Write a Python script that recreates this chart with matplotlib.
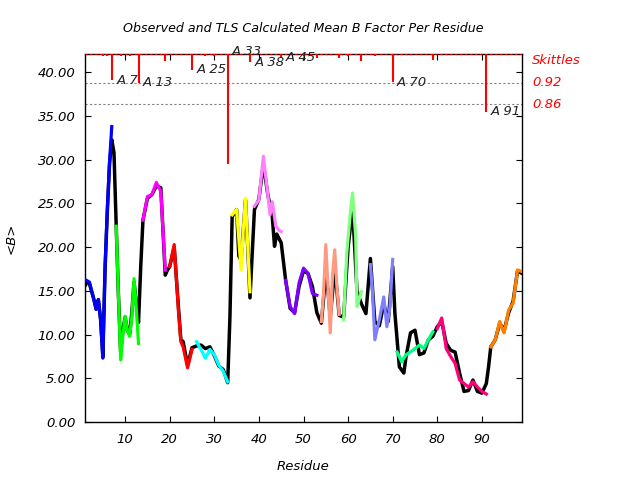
"""Observed vs TLS calculated mean B factor per residue, with skittles markers."""

import matplotlib

matplotlib.use("Agg")
import matplotlib.pyplot as plt  # noqa: E402
import matplotlib.transforms as mtransforms  # noqa: E402

# observed mean B per residue (black trace)
obs_res = [1, 1.5, 2, 3, 3.5, 4, 4.5, 5, 5.5, 6, 6.5, 7, 7.5, 8, 8.5, 9, 9.5,
           10, 10.5, 11, 11.5, 12, 12.5, 13, 13.5, 14, 15, 16, 17, 18, 19,
           19.5, 20, 21, 22, 22.5, 23, 24, 25, 26, 27, 28, 29, 30, 31, 32, 33,
           33.5, 34, 35, 35.5, 36, 36.5, 37, 37.5, 38, 39, 40, 41, 42, 43,
           43.5, 44, 45, 46, 47, 48, 49, 50, 51, 52, 53, 54, 55, 55.5, 56, 57,
           57.5, 58, 59, 60, 61, 62, 63, 64, 65, 66, 67, 68, 69, 70, 70.5,
           71.5, 72.5, 73, 74, 75, 76, 77, 78, 79, 80, 81, 82, 83, 84, 85, 86,
           87, 88, 89, 90, 91, 91.5, 92, 93, 94, 95, 96, 97, 98, 99]
obs_b = [15.6, 16.0, 15.8, 14.0, 12.9, 14.0, 11.7, 7.5, 17.5, 24.0, 29.5, 32.3,
         30.8, 22.4, 14.5, 8.0, 10.5, 12.0, 10.5, 10.0, 12.5, 16.0, 13.5, 11.4,
         17.8, 23.1, 25.6, 26.0, 27.0, 26.8, 16.8, 17.4, 17.8, 20.0, 12.8, 9.4,
         9.2, 6.5, 8.5, 8.7, 8.8, 8.4, 8.6, 7.6, 6.4, 6.0, 4.5, 12.0, 23.5,
         24.3, 19.0, 18.5, 22.0, 25.4, 20.0, 14.2, 24.3, 25.5, 29.5, 26.0, 23.5,
         20.1, 21.5, 20.5, 16.2, 13.0, 12.5, 15.5, 17.3, 17.0, 15.5, 12.5, 11.3,
         17.0, 15.0, 12.0, 17.5, 15.0, 12.2, 12.0, 20.0, 24.5, 15.0, 13.5, 12.4,
         18.7, 11.5, 11.0, 13.5, 11.5, 17.8, 12.4, 6.3, 5.6, 7.5, 10.2, 10.5,
         7.7, 7.9, 9.4, 9.8, 10.9, 11.5, 9.0, 8.2, 8.0, 5.6, 3.5, 3.6, 4.8, 3.5,
         3.3, 4.4, 6.3, 8.6, 9.4, 11.3, 10.5, 12.5, 13.8, 17.3, 17.0]

# TLS calculated B, one entry per TLS group
tls_res = [
    [1, 2, 3, 3.5, 4, 4.5, 5, 5.5, 6, 6.5, 7],
    [8, 8.5, 9, 9.5, 10, 10.5, 11, 11.5, 12, 12.5, 13],
    [14, 15, 16, 17, 18, 19],
    [20, 21, 22, 22.5, 23, 24, 25],
    [26, 27, 28, 29, 30, 31, 32, 33],
    [34, 35, 36, 36.5, 37, 37.5, 38],
    [39, 40, 41, 41.8, 42.5, 43, 43.8, 44.5, 45],
    [46, 47, 48, 49, 50, 51, 52, 53],
    [54, 54.5, 55, 55.5, 56, 56.5, 57, 57.5, 58],
    [59, 59.7, 60.5, 61, 61.7, 62, 63],
    [65, 65.5, 66, 67, 68, 68.7, 69.4, 70],
    [71, 72, 73, 74.5, 76, 77, 78, 79],
    [80, 81, 82, 83, 84, 85, 86, 87, 88, 89, 90, 91],
    [92, 93, 94, 94.7, 95, 96, 97, 97.5, 98, 99],
]
tls_b = [
    [16.3, 16.0, 14.0, 12.9, 14.0, 11.7, 7.3, 17.8, 24.3, 29.7, 33.8],
    [22.4, 14.5, 7.1, 10.0, 12.1, 10.5, 9.8, 12.0, 16.4, 13.0, 9.0],
    [23.1, 25.8, 26.0, 27.4, 26.4, 17.4],
    [17.8, 20.3, 12.4, 9.2, 8.6, 6.2, 8.3],
    [9.2, 8.3, 7.3, 8.3, 7.7, 6.5, 5.8, 4.6],
    [23.7, 24.3, 17.4, 22.0, 25.6, 20.1, 14.9],
    [24.7, 25.4, 30.4, 26.9, 23.7, 25.2, 22.4, 21.9, 21.8],
    [16.2, 13.2, 12.4, 15.9, 17.6, 17.0, 14.7, 14.5],
    [11.5, 14.7, 20.3, 15.4, 10.2, 16.7, 19.7, 15.4, 12.3],
    [11.7, 19.3, 23.9, 26.2, 21.2, 13.2, 14.9],
    [18.0, 14.7, 9.4, 11.7, 14.3, 10.9, 13.2, 18.6],
    [8.0, 6.9, 7.7, 8.2, 8.8, 8.4, 9.4, 10.3],
    [10.7, 11.9, 8.4, 7.5, 6.7, 4.8, 4.4, 4.0, 4.6, 4.0, 3.5, 3.2],
    [8.6, 9.4, 11.5, 10.5, 10.2, 12.8, 13.6, 15.5, 17.4, 17.2],
]
tls_colors = ["#0000ff", "#00ff00", "#ff00ff", "#ff0000", "#00ffff", "#ffff00",
              "#ff80ff", "#8000ff", "#ff9980", "#80ff80", "#8080ff", "#00ff80",
              "#ff0080", "#ff8000"]

# skittles correlation per residue (red drops from the top edge)
skit_res = [5, 6, 7, 9, 11, 13, 19, 25, 28, 30, 33, 38, 45, 50, 53, 58, 60, 63,
            66, 70, 79, 91]
skit_val = [0.995, 0.995, 0.927, 0.995, 0.995, 0.920, 0.981, 0.956, 0.995,
            0.995, 0.696, 0.977, 0.990, 0.995, 0.989, 0.989, 0.995, 0.981,
            0.995, 0.922, 0.983, 0.840]
label_res = [7, 13, 25, 33, 38, 45, 70, 91]
ref_levels = [0.92, 0.86]

Y_TOP = 42.1
SKIT_SCALE = 41.25  # B units per unit of correlation


def skit_y(c):
    return Y_TOP - (1.0 - c) * SKIT_SCALE


plt.rcParams["font.family"] = "DejaVu Sans"
plt.rcParams["font.style"] = "italic"

fig = plt.figure(figsize=(6.4, 4.8), dpi=100)
ax = fig.add_axes([85 / 640, 58 / 480, 437 / 640, 368 / 480])

ax.plot(obs_res, obs_b, color="black", lw=2.5, zorder=2)
for res, b, col in zip(tls_res, tls_b, tls_colors):
    ax.plot(res, b, color=col, lw=2.3, zorder=3)

# skittles
for lvl in ref_levels:
    ax.axhline(skit_y(lvl), color="grey", ls=(0, (2, 2)), lw=0.8, zorder=1)
ax.axhline(Y_TOP, color="red", ls=(0, (1.5, 1.5)), lw=1.2, zorder=4)
ax.vlines(skit_res, [skit_y(c) for c in skit_val], Y_TOP, color="red", lw=1.5,
          zorder=4)
for r in label_res:
    c = skit_val[skit_res.index(r)]
    y = skit_y(c) if c > 0.8 else Y_TOP + 0.3
    ax.text(r + 1.0, y, f"A {r}", fontsize=9.5, va="center", ha="left",
            color="#222222", zorder=5, clip_on=False)

trans = mtransforms.blended_transform_factory(ax.transAxes, ax.transData)
ax.text(1.023, 41.35, "Skittles", color="red", fontsize=9.5, va="center",
        transform=trans)
for lvl in ref_levels:
    ax.text(1.023, skit_y(lvl), f"{lvl:.2f}", color="red", fontsize=9.5,
            va="center", transform=trans)

ax.set_xlim(1, 99)
ax.set_ylim(0, Y_TOP)
ax.set_xticks(range(10, 100, 10))
ax.set_yticks(range(0, 45, 5))
ax.set_yticklabels([f"{v:.2f}" for v in range(0, 45, 5)])
ax.tick_params(direction="in", top=True, right=True, length=4, labelsize=9.5)
ax.tick_params(axis="y", pad=7)
ax.tick_params(axis="x", pad=8)
for s in ax.spines.values():
    s.set_linewidth(1.0)

ax.set_title("Observed and TLS Calculated Mean B Factor Per Residue",
             fontsize=9.1, pad=16)
ax.set_xlabel("Residue", fontsize=9.5, labelpad=10)
ax.set_ylabel("<B>", fontsize=9.5, labelpad=14)

fig.savefig("out.png", dpi=100)
